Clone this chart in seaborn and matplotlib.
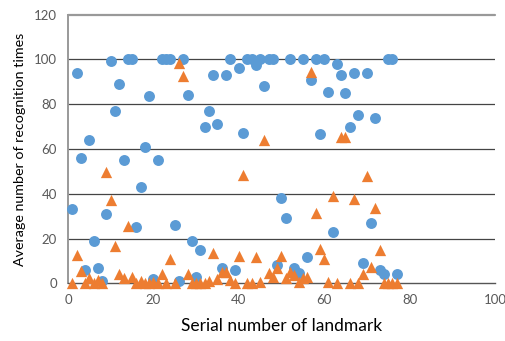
import numpy as np
import pandas as pd
import matplotlib
matplotlib.use("Agg")
import matplotlib.pyplot as plt
import seaborn as sns

landmark = list(range(1, 78))
blue_vals = [33, 94, 56, 6, 64, 19, 7, 1, 31, 99.5,
             77, 89, 55, 100, 100, 25, 43, 61, 83.5, 2,
             55, 100, 100, 100, 26, 1, 100, 84, 19, 3,
             15, 70, 77, 93, 71, 7, 93, 100, 6, 96,
             67, 100, 100, 97.5, 100, 88, 100, 100, 8, 38,
             29, 100, 7, 4.5, 100, 12, 91, 100, 66.5, 100,
             85.5, 23, 98, 93, 85, 70, 94, 75, 9, 94,
             27, 74, 6, 4, 100, 100, 4]
orange_vals = [0, 12.6, 5.6, 0, 2.2, 0, 1.5, 0, 49.7, 37.2,
               16.5, 4.3, 2.2, 25.7, 3, 0, 1, 0, 0, 0.5,
               0, 4, 0, 10.7, 0, 98.3, 92.5, 4.3, 0, 0,
               0, 0, 1, 13.4, 2, 5, 5, 1.5, 0, 12.3,
               48.3, 0, 0, 11.9, 0.7, 64, 4.5, 3, 6.7, 12.3,
               2.5, 5.2, 3.7, 0.5, 2.5, 3, 94.5, 31.4, 15.5, 11,
               0.4, 39, 0, 65.4, 65.4, 0, 37.9, 0, 4.3, 47.9,
               7.3, 33.5, 14.9, 0, 0, 0, 0]
xticks = [0, 20, 40, 60, 80, 100]
yticks = [0, 20, 40, 60, 80, 100, 120]

sns.set_style("white")
plt.rcParams['font.family'] = ['Lato', 'DejaVu Sans']

fig = plt.figure(figsize=(5.05, 3.41), dpi=100)
ax = fig.add_axes([0.1347, 0.169, 0.8453, 0.788])

df_b = pd.DataFrame({"x": landmark, "y": blue_vals})
df_o = pd.DataFrame({"x": landmark, "y": orange_vals})

sns.scatterplot(data=df_b, x="x", y="y", ax=ax, color="#5B9BD5", marker="o",
                s=62, linewidth=0, clip_on=False, zorder=3)
sns.scatterplot(data=df_o, x="x", y="y", ax=ax, color="#ED7D31", marker="^",
                s=66, linewidth=0, clip_on=False, zorder=4)

ax.set_xlim(0, 100)
ax.set_ylim(0, 120)
ax.set_xticks(xticks)
ax.set_yticks(yticks)
for v in yticks[1:-1]:
    ax.axhline(v, color="#444444", lw=0.9, zorder=1)
ax.axhline(120, color="#999999", lw=1.6, zorder=1, clip_on=False)

for s in ["top", "right"]:
    ax.spines[s].set_visible(False)
ax.spines["left"].set_color("#999999")
ax.spines["left"].set_linewidth(1.4)
ax.spines["bottom"].set_color("#555555")
ax.spines["bottom"].set_linewidth(1.0)

ax.tick_params(axis="x", direction="out", length=5, width=1, color="#555555",
               labelsize=9.5, labelcolor="#595959", pad=3)
ax.tick_params(axis="y", direction="out", length=5, width=0.9, color="#444444",
               labelsize=9.5, labelcolor="#595959", pad=3)
ax.set_xlabel("Serial number of landmark", fontsize=12.5, color="black", labelpad=8)
ax.set_ylabel("Average number of recognition times", fontsize=10.3, color="black", labelpad=6)

fig.savefig("out.png", dpi=100)
